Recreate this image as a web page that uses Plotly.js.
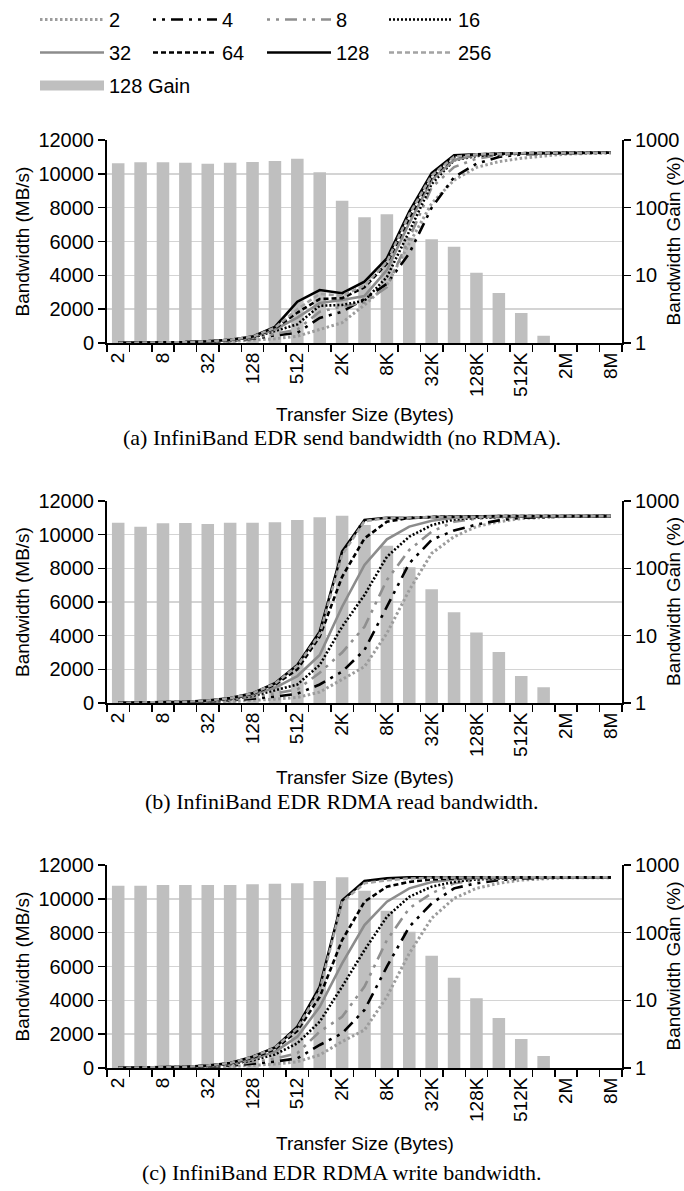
<!DOCTYPE html>
<html><head><meta charset="utf-8">
<script src="https://cdn.plot.ly/plotly-3.0.1.min.js"></script>
<style>body{margin:0;background:#fff}#chart{width:684px;height:1191px}</style>
</head><body><div id="chart"></div>
<script>
// ---- categories ----
const sizes = ['2','4','8','16','32','64','128','256','512','1K','2K','4K','8K','16K','32K','64K','128K','256K','512K','1M','2M','4M','8M'];
const seriesNames = ['2','4','8','16','32','64','128','256'];
const gainName = '128 Gain';

// ---- (a) send bandwidth (MB/s) ----
const send2   = [3, 6, 12, 25, 50, 90, 160, 250, 400, 800, 1200, 2250, 3430, 5890, 8250, 9630, 10380, 10720, 10920, 11050, 11170, 11200, 11220];
const send4   = [4, 9, 18, 35, 70, 130, 250, 450, 600, 1480, 1850, 2600, 3500, 5300, 8000, 9800, 10600, 11000, 11150, 11200, 11230, 11250, 11250];
const send8   = [5, 10, 20, 40, 80, 150, 280, 550, 800, 1850, 2150, 2400, 3300, 6200, 9200, 10400, 10900, 11100, 11200, 11220, 11240, 11250, 11250];
const send16  = [5, 11, 22, 45, 90, 170, 320, 700, 1100, 2200, 2250, 2500, 3900, 6600, 9400, 10800, 11050, 11150, 11200, 11220, 11240, 11250, 11250];
const send32  = [6, 12, 24, 48, 95, 180, 340, 800, 1500, 2360, 2540, 2780, 4310, 7090, 9630, 10820, 11100, 11200, 11220, 11230, 11240, 11250, 11250];
const send64  = [6, 12, 25, 50, 100, 185, 360, 850, 1800, 2600, 2650, 3300, 4700, 7400, 9800, 11000, 11150, 11200, 11220, 11230, 11240, 11250, 11250];
const send128 = [6, 12, 25, 50, 100, 190, 380, 950, 2440, 3130, 2940, 3620, 5000, 7760, 10050, 11100, 11150, 11200, 11220, 11230, 11240, 11250, 11250];
const send256 = [6, 12, 25, 50, 100, 190, 370, 900, 2000, 2900, 2800, 3400, 4800, 7600, 9900, 11000, 11150, 11200, 11220, 11230, 11240, 11250, 11250];
const sendGain = [453, 468, 468, 462, 446, 462, 473, 489, 530, 333, 127, 72, 80, 36, 34, 26.5, 10.9, 5.5, 2.77, 1.28, 1, 1, 1];

// ---- (b) RDMA read bandwidth (MB/s) ----
const read2   = [3, 6, 12, 24, 45, 85, 150, 230, 330, 650, 1400, 2160, 4140, 6710, 8890, 9880, 10480, 10770, 10960, 11040, 11080, 11100, 11100];
const read4   = [5, 10, 20, 40, 75, 140, 250, 380, 550, 1100, 1860, 3150, 5720, 8300, 9690, 10250, 10600, 10850, 11000, 11050, 11080, 11100, 11100];
const read8   = [6, 12, 24, 48, 95, 180, 340, 550, 800, 1800, 3000, 4530, 7310, 9090, 10180, 10770, 10950, 11050, 11080, 11100, 11100, 11100, 11100];
const read16  = [7, 14, 28, 56, 110, 220, 420, 750, 1100, 2260, 4530, 6420, 8690, 9880, 10560, 10900, 11000, 11050, 11080, 11100, 11100, 11100, 11100];
const read32  = [8, 16, 32, 64, 125, 250, 480, 900, 1600, 2850, 5720, 8200, 9720, 10480, 10830, 11000, 11050, 11080, 11100, 11100, 11100, 11100, 11100];
const read64  = [8, 17, 34, 68, 135, 270, 540, 1080, 2000, 3940, 7500, 9780, 10770, 11000, 11050, 11080, 11100, 11100, 11100, 11100, 11100, 11100, 11100];
const read128 = [9, 18, 36, 72, 145, 290, 575, 1170, 2260, 4240, 9000, 10870, 11000, 10980, 11050, 11080, 11100, 11100, 11100, 11100, 11100, 11100, 11100];
const read256 = [9, 18, 36, 72, 145, 290, 570, 1150, 2200, 4100, 8800, 10800, 11000, 11020, 11050, 11080, 11100, 11100, 11100, 11100, 11100, 11100, 11100];
const readGain = [476, 415, 466, 471, 456, 476, 476, 483, 522, 573, 605, 440, 217, 104, 48.8, 22.2, 11.1, 5.7, 2.52, 1.71, 1, 1, 1];

// ---- (c) RDMA write bandwidth (MB/s) ----
const write2   = [3, 6, 12, 24, 45, 85, 150, 230, 370, 770, 1560, 2250, 4210, 6780, 8850, 10030, 10620, 10920, 11110, 11170, 11250, 11250, 11250];
const write4   = [5, 10, 20, 40, 75, 140, 250, 380, 570, 1360, 2050, 3430, 5990, 8350, 9730, 10620, 10920, 11100, 11200, 11250, 11270, 11270, 11270];
const write8   = [6, 12, 24, 48, 95, 190, 350, 550, 880, 2150, 3030, 4810, 7560, 9440, 10330, 10920, 11100, 11200, 11250, 11270, 11270, 11270, 11270];
const write16  = [7, 14, 28, 56, 115, 230, 450, 800, 1460, 2740, 4810, 6970, 8940, 10120, 10720, 11000, 11150, 11220, 11250, 11270, 11270, 11270, 11270];
const write32  = [8, 16, 32, 64, 130, 260, 520, 950, 1850, 3620, 6190, 8450, 9830, 10620, 11000, 11150, 11220, 11250, 11270, 11270, 11270, 11270, 11270];
const write64  = [8, 17, 34, 68, 140, 280, 600, 1100, 2200, 4210, 7560, 9830, 10720, 11000, 11150, 11220, 11250, 11270, 11270, 11270, 11270, 11270, 11270];
const write128 = [9, 18, 36, 72, 150, 300, 670, 1220, 2440, 4800, 9900, 11050, 11210, 11270, 11270, 11270, 11270, 11270, 11270, 11270, 11270, 11270, 11270];
const write256 = [9, 18, 36, 72, 150, 300, 650, 1200, 2350, 4600, 9800, 10920, 11100, 11200, 11250, 11270, 11270, 11270, 11270, 11270, 11270, 11270, 11270];
const writeGain = [494, 494, 506, 506, 506, 506, 518, 530, 536, 580, 658, 417, 211, 103, 45.7, 21.6, 10.7, 5.5, 2.68, 1.5, 1, 1, 1];

const captions = ['(a) InfiniBand EDR send bandwidth (no RDMA).', '(b) InfiniBand EDR RDMA read bandwidth.', '(c) InfiniBand EDR RDMA write bandwidth.'];
const xTitle = 'Transfer Size (Bytes)';
const yTitle = 'Bandwidth (MB/s)';
const y2Title = 'Bandwidth Gain (%)';

// ---- assemble ----
const panels = [
  {lines: [send2, send4, send8, send16, send32, send64, send128, send256], gain: sendGain},
  {lines: [read2, read4, read8, read16, read32, read64, read128, read256], gain: readGain},
  {lines: [write2, write4, write8, write16, write32, write64, write128, write256], gain: writeGain}
];

const styles = [
  {color: '#9c9c9c', width: 3,   dash: '2.5px,2.5px'},
  {color: '#000000', width: 2.6, dash: '3px,6px,3px,6px,12px,6px'},
  {color: '#8f8f8f', width: 2.6, dash: '3px,6px,3px,6px,12px,6px'},
  {color: '#000000', width: 2.6, dash: '2px,2px'},
  {color: '#8c8c8c', width: 2.6, dash: 'solid'},
  {color: '#000000', width: 2.6, dash: '5px,3px'},
  {color: '#000000', width: 2.6, dash: 'solid'},
  {color: '#a3a3a3', width: 2.6, dash: '5px,3px'}
];
const legendOf = ['legend','legend2','legend3','legend4','legend','legend2','legend3','legend4'];

const H = 1191, W = 684;
const FONT = 'Liberation Sans, Arial, sans-serif';
const fs = 19, tfs = 20;
const plotL = 107, plotR = 622;
const tops = [140, 501, 865], bots = [343, 703, 1068];
const xTitleY = [414, 778, 1143], capY = [437, 801, 1172];
const fy = p => 1 - p / H;

const traces = [];
const layout = {
  width: W, height: H, margin: {l: 0, r: 0, t: 0, b: 0},
  paper_bgcolor: '#fff', plot_bgcolor: 'rgba(0,0,0,0)',
  font: {family: FONT, size: fs, color: '#000'},
  bargap: 0.44, showlegend: true, annotations: []
};

panels.forEach((p, k) => {
  const xa = k === 0 ? 'x' : 'x' + (k + 1);
  const n1 = 3 * k + 1, n2 = 3 * k + 2, n3 = 3 * k + 3;
  const ya1 = n1 === 1 ? 'y' : 'y' + n1, ya2 = 'y' + n2, ya3 = 'y' + n3;
  const dom = [fy(bots[k]), fy(tops[k])];
  layout[k === 0 ? 'xaxis' : 'xaxis' + (k + 1)] = {
    domain: [plotL / W, plotR / W], anchor: ya1, type: 'category',
    categoryorder: 'array', categoryarray: sizes, range: [-0.5, sizes.length - 0.5],
    tickmode: 'array', tickvals: sizes, ticktext: sizes.map((s, i) => i % 2 === 0 ? s : ''),
    tickson: 'boundaries', ticks: 'outside', ticklen: 7, tickwidth: 1.5, tickcolor: '#000',
    tickangle: -90, showline: true, linecolor: '#000', linewidth: 2, showgrid: false,
    zeroline: false, tickfont: {family: FONT, size: fs, color: '#000'}, fixedrange: true
  };
  layout[n1 === 1 ? 'yaxis' : 'yaxis' + n1] = {
    domain: dom, anchor: xa, range: [0, 12000], dtick: 2000, tick0: 0, tickformat: 'd',
    showgrid: true, gridcolor: '#d4d4d4', gridwidth: 1.5, zeroline: false,
    showline: true, linecolor: '#000', linewidth: 2, ticks: 'outside', ticklen: 7, tickwidth: 1.5, tickcolor: '#000',
    tickfont: {family: FONT, size: tfs, color: '#000'}, fixedrange: true
  };
  layout['yaxis' + n2] = {
    domain: dom, anchor: xa, overlaying: ya1, side: 'right', type: 'log', range: [0, 3],
    tickvals: [1, 10, 100, 1000], ticktext: ['1', '10', '100', '1000'],
    showgrid: false, zeroline: false, showline: true, linecolor: '#000', linewidth: 2,
    ticks: 'outside', ticklen: 7, tickwidth: 1.5, tickcolor: '#000',
    tickfont: {family: FONT, size: tfs, color: '#000'}, fixedrange: true
  };
  layout['yaxis' + n3] = {
    domain: dom, anchor: xa, overlaying: ya1, range: [0, 12000], visible: false, fixedrange: true
  };
  traces.push({type: 'scatter', x: [], y: [], xaxis: xa, yaxis: ya1, showlegend: false, hoverinfo: 'skip'});
  traces.push({
    type: 'bar', x: sizes, y: p.gain, xaxis: xa, yaxis: ya2, name: gainName,
    marker: {color: '#bfbfbf', line: {width: 0}}, showlegend: false
  });
  p.lines.forEach((vals, i) => {
    traces.push({
      type: 'scatter', mode: 'lines', x: sizes, y: vals, xaxis: xa, yaxis: ya3,
      name: seriesNames[i], line: Object.assign({}, styles[i]),
      showlegend: k === 0, legend: legendOf[i], legendgroup: 'g' + i
    });
  });
  const midY = fy((tops[k] + bots[k]) / 2);
  layout.annotations.push(
    {text: xTitle, xref: 'paper', yref: 'paper', x: (plotL + plotR) / 2 / W, y: fy(xTitleY[k]), xanchor: 'center', yanchor: 'middle', showarrow: false, font: {family: FONT, size: fs, color: '#000'}},
    {text: yTitle, xref: 'paper', yref: 'paper', x: 22 / W, y: midY, xanchor: 'center', yanchor: 'middle', textangle: -90, showarrow: false, font: {family: FONT, size: fs, color: '#000'}},
    {text: y2Title, xref: 'paper', yref: 'paper', x: 673 / W, y: midY, xanchor: 'center', yanchor: 'middle', textangle: -90, showarrow: false, font: {family: FONT, size: fs, color: '#000'}},
    {text: captions[k], xref: 'paper', yref: 'paper', x: 342 / W, y: fy(capY[k]), xanchor: 'center', yanchor: 'middle', showarrow: false, font: {family: 'Liberation Serif, Times New Roman, serif', size: 22, color: '#000'}}
  );
});

// legend swatch for the gain bars
traces.push({type: 'scatter', mode: 'lines', x: [null], y: [null], xaxis: 'x', yaxis: 'y3', name: gainName,
  line: {color: '#bfbfbf', width: 12}, legend: 'legend', legendgroup: 'gain', showlegend: true, hoverinfo: 'skip'});

const colX = [40, 153, 267, 389];
['legend', 'legend2', 'legend3', 'legend4'].forEach((l, i) => {
  layout[l] = {x: (colX[i] - 5) / W, y: 1, xanchor: 'left', yanchor: 'top', orientation: 'v',
    bgcolor: 'rgba(0,0,0,0)', borderwidth: 0, itemwidth: 64, traceorder: 'grouped', tracegroupgap: 4,
    font: {family: FONT, size: tfs, color: '#000'}, itemclick: false, itemdoubleclick: false};
});

Plotly.newPlot('chart', traces, layout, {staticPlot: true});
</script></body></html>
